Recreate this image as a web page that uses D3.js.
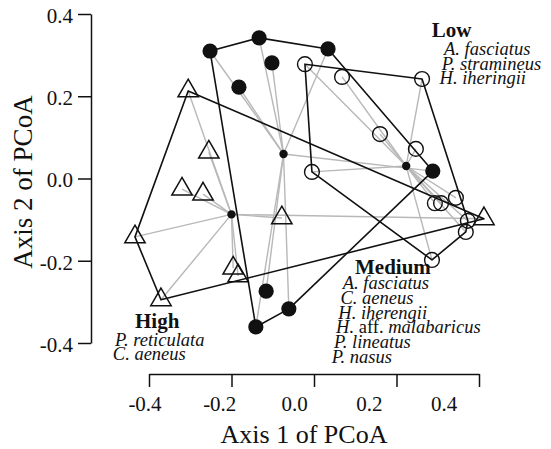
<!DOCTYPE html>
<html>
<head>
<meta charset="utf-8">
<script src="https://cdn.jsdelivr.net/npm/d3@7"></script>
<style>
  html, body { margin: 0; padding: 0; background: #fff; }
  svg { display: block; }
  text { font-family: "Times New Roman", Times, "Liberation Serif", "Nimbus Roman", serif; fill: #111; }
</style>
</head>
<body>
<svg id="chart" width="551" height="449"></svg>
<script>
// ---------------- data ----------------
const xTicks = [-0.4, -0.2, 0.0, 0.2, 0.4];
const yTicks = [-0.4, -0.2, 0.0, 0.2, 0.4];

// High (triangles)
const highX = [-0.305, -0.255, -0.320, -0.269, -0.434, -0.371, -0.196, -0.184, -0.078, 0.412];
const highY = [ 0.213,  0.064, -0.026, -0.038, -0.142, -0.295, -0.218, -0.237, -0.096, -0.098];

// Medium (filled circles)
const medX = [-0.252, -0.133, -0.102, -0.182, 0.034, 0.288, -0.116, -0.061, -0.141];
const medY = [ 0.310,  0.342,  0.281,  0.222, 0.315, 0.018, -0.274, -0.317, -0.361];

// Low (open circles)
const lowX = [-0.022, 0.068, 0.262, 0.160, 0.247, -0.005, 0.293, 0.308, 0.344, 0.373, 0.368, 0.286];
const lowY = [ 0.278, 0.247, 0.242, 0.108, 0.072,  0.016, -0.060, -0.060, -0.047, -0.103, -0.130, -0.198];

const groupNames = ["High", "Medium", "Low"];
const highSpecies = [["P.", "reticulata"], ["C.", "aeneus"]];
const mediumSpecies = [["A.", "fasciatus"], ["C.", "aeneus"], ["H.", "iherengii"],
                       ["H.", "malabaricus", "aff."], ["P.", "lineatus"], ["P.", "nasus"]];
const lowSpecies = [["A.", "fasciatus"], ["P.", "stramineus"], ["H.", "iheringii"]];

const xTitle = "Axis 1 of PCoA";
const yTitle = "Axis 2 of PCoA";

// ---------------- layout ----------------
const FONT = '"Times New Roman", Times, "Liberation Serif", "Nimbus Roman", serif';
const svg = d3.select("#chart");
const x = d3.scaleLinear().domain([-0.4, 0.4]).range([149, 479]);
const y = d3.scaleLinear().domain([-0.4, 0.4]).range([343, 14]);
const xLab = d3.scaleLinear().domain([-0.4, 0.4]).range([144.5, 443.5]);
const fmt = d => d.toFixed(1);

// axes
const yAxisG = svg.append("g").attr("transform", "translate(91,0)")
  .call(d3.axisLeft(y).tickValues(yTicks).tickFormat(fmt).tickSize(13).tickSizeOuter(0).tickPadding(5));
yAxisG.selectAll("text").attr("font-size", 21).attr("dy", "0.40em");

const xAxisG = svg.append("g").attr("transform", "translate(0,374)")
  .call(d3.axisBottom(x).tickValues(xTicks).tickFormat("").tickSize(13).tickSizeOuter(0));
const xLabG = svg.append("g").attr("transform", "translate(0,374)")
  .call(d3.axisBottom(xLab).tickValues(xTicks).tickFormat(fmt).tickSize(0).tickPadding(22));
xLabG.select(".domain").remove();
xLabG.selectAll("text").attr("font-size", 21);

svg.selectAll("g").attr("font-family", FONT);
svg.selectAll(".domain, .tick line").attr("stroke", "#111").attr("stroke-width", 1.5);
svg.selectAll(".tick text").attr("fill", "#111").style("font-family", FONT);

svg.append("text").attr("x", 304).attr("y", 443).attr("text-anchor", "middle")
  .attr("font-size", 26).text(xTitle);
svg.append("text").attr("transform", "translate(32,182) rotate(-90)").attr("text-anchor", "middle")
  .attr("font-size", 27).text(yTitle);

// groups
const groups = [
  { xs: highX, ys: highY, shape: "triangle" },
  { xs: medX, ys: medY, shape: "filled" },
  { xs: lowX, ys: lowY, shape: "open" }
];
groups.forEach(g => {
  g.pts = g.xs.map((v, i) => [x(v), y(g.ys[i])]);
  g.cx = x(d3.mean(g.xs));
  g.cy = y(d3.mean(g.ys));
  g.hull = d3.polygonHull(g.pts);
});

const plot = svg.append("g");
// spiders
groups.forEach(g => {
  plot.append("g").selectAll("line").data(g.pts).join("line")
    .attr("x1", g.cx).attr("y1", g.cy)
    .attr("x2", d => d[0]).attr("y2", d => d[1])
    .attr("stroke", "#b8b8b8").attr("stroke-width", 1.4);
});
// hulls
groups.forEach(g => {
  plot.append("path").attr("d", "M" + g.hull.join("L") + "Z")
    .attr("fill", "none").attr("stroke", "#111").attr("stroke-width", 1.6)
    .attr("stroke-linejoin", "round");
});
// centroids
groups.forEach(g => {
  plot.append("circle").attr("cx", g.cx).attr("cy", g.cy).attr("r", 4.2).attr("fill", "#111");
});
// points
const tri = d3.symbol().type(d3.symbolTriangle).size(180);
groups.forEach(g => {
  const sel = plot.append("g").selectAll(".pt").data(g.pts);
  if (g.shape === "triangle") {
    sel.join("path").attr("d", tri)
      .attr("transform", d => `translate(${d[0]},${d[1]})`)
      .attr("fill", "none").attr("stroke", "#111").attr("stroke-width", 1.5);
  } else if (g.shape === "filled") {
    sel.join("circle").attr("cx", d => d[0]).attr("cy", d => d[1]).attr("r", 7.6).attr("fill", "#111");
  } else {
    sel.join("circle").attr("cx", d => d[0]).attr("cy", d => d[1]).attr("r", 7.4)
      .attr("fill", "none").attr("stroke", "#111").attr("stroke-width", 1.4);
  }
});

// group labels
const labelBlocks = [
  { name: groupNames[0], species: highSpecies,   tx: 135,   ty: 328, sx: 115,   sy: 346, dy: 14.2 },
  { name: groupNames[1], species: mediumSpecies, tx: 355,   ty: 274, sx: 342.7, sy: 289.3, dy: 14.7 },
  { name: groupNames[2], species: lowSpecies,    tx: 431.7, ty: 37,  sx: 444,   sy: 55, dy: 14.5 }
];
labelBlocks.forEach(b => {
  svg.append("text").attr("x", b.tx).attr("y", b.ty).attr("font-size", 21)
    .attr("font-weight", "bold").text(b.name);
  b.species.forEach((s, i) => {
    const t = svg.append("text").attr("x", b.sx - i * 2.2).attr("y", b.sy + i * b.dy)
      .attr("font-size", 18.5);
    t.append("tspan").attr("font-style", "italic").text(s[0] + " ");
    if (s[2]) t.append("tspan").text(s[2] + " ");
    t.append("tspan").attr("font-style", "italic").text(s[1]);
  });
});
</script>
</body>
</html>
